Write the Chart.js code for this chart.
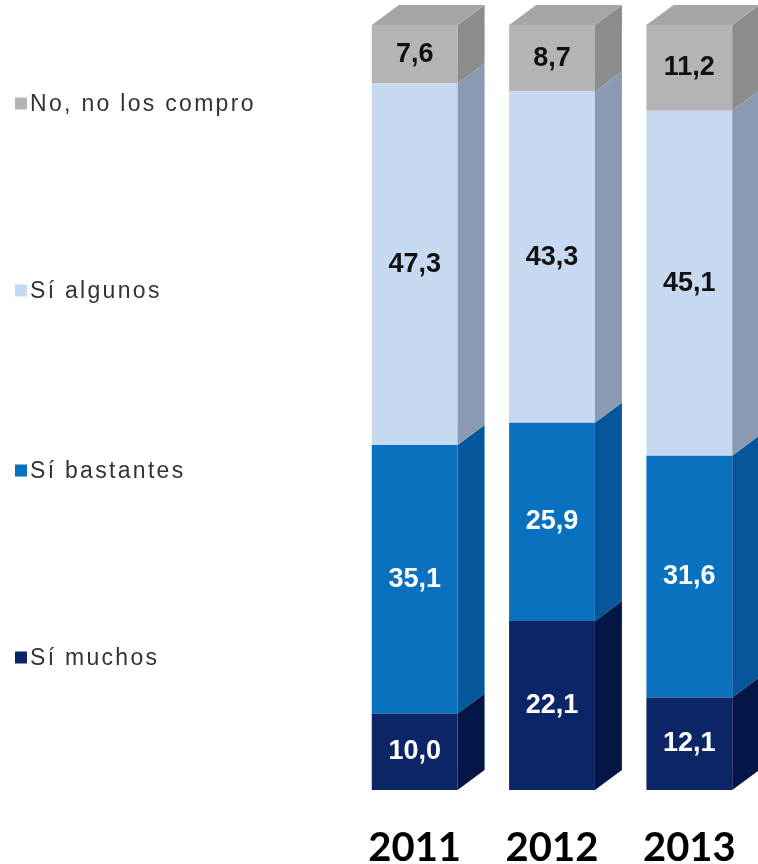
<!DOCTYPE html>
<html>
<head>
<meta charset="utf-8">
<script src="https://cdn.jsdelivr.net/npm/chart.js@4.4.1/dist/chart.umd.min.js"></script>
<style>
  html, body { margin: 0; padding: 0; background: #fff; }
  #wrap { position: relative; width: 758px; height: 864px; }
  #legend { position: absolute; left: 0; top: 0; }
  .item {
    position: absolute; left: 15px; white-space: nowrap;
    font: 23px "Liberation Sans", Arial, sans-serif; color: #333;
    letter-spacing: 2.3px; transform: translateY(-50%);
  }
  .item span.box {
    display: inline-block; width: 12px; height: 12px; margin-right: 3px;
    vertical-align: 1px;
  }
</style>
</head>
<body>
<div id="wrap">
  <canvas id="chart" width="758" height="864"></canvas>
  <div id="legend"></div>
</div>
<script>
// ─── datos ───
const years = ['2011', '2012', '2013'];
const seriesLabels = ['Sí muchos', 'Sí bastantes', 'Sí algunos', 'No, no los compro'];
const siMuchos    = [10.0, 22.1, 12.1];
const siBastantes = [35.1, 25.9, 31.6];
const siAlgunos   = [47.3, 43.3, 45.1];
const noCompro    = [7.6, 8.7, 11.2];

// ─── estilo ───
const frontColors = ['#0b2566', '#0a70c0', '#c6d9f0', '#b4b4b4'];
const sideColors  = ['#031645', '#05569a', '#8a9ab2', '#8c8c8c'];
const topColors   = ['#1a3a80', '#3a8ad0', '#d8e4f4', '#a6a6a6'];
const labelColors = ['#ffffff', '#ffffff', '#111111', '#111111'];
const legendTops  = [657, 470, 290, 103];
const DX = 27, DY = -20;

const seriesData = [siMuchos, siBastantes, siAlgunos, noCompro];

// cajas 3D: caras laterales y superior
const box3d = {
  id: 'box3d',
  afterDatasetsDraw(chart) {
    const ctx = chart.ctx;
    const nSets = chart.data.datasets.length;
    ctx.save();
    chart.data.datasets.forEach((ds, di) => {
      const meta = chart.getDatasetMeta(di);
      meta.data.forEach(bar => {
        const { x, y, base, width } = bar.getProps(['x', 'y', 'base', 'width'], true);
        const l = x - width / 2, r = x + width / 2;
        // lateral
        ctx.fillStyle = sideColors[di];
        ctx.beginPath();
        ctx.moveTo(r, base);
        ctx.lineTo(r + DX, base + DY);
        ctx.lineTo(r + DX, y + DY);
        ctx.lineTo(r, y);
        ctx.closePath();
        ctx.fill();
        // superior
        if (di === nSets - 1) {
          ctx.fillStyle = topColors[di];
          ctx.beginPath();
          ctx.moveTo(l, y);
          ctx.lineTo(l + DX, y + DY);
          ctx.lineTo(r + DX, y + DY);
          ctx.lineTo(r, y);
          ctx.closePath();
          ctx.fill();
        }
      });
    });
    // valores
    ctx.font = 'bold 27px "Liberation Sans", Arial, sans-serif';
    ctx.textAlign = 'center';
    ctx.textBaseline = 'middle';
    chart.data.datasets.forEach((ds, di) => {
      const meta = chart.getDatasetMeta(di);
      meta.data.forEach((bar, i) => {
        const { x, y, base } = bar.getProps(['x', 'y', 'base'], true);
        ctx.fillStyle = labelColors[di];
        ctx.fillText(ds.data[i].toFixed(1).replace('.', ','), x, (y + base) / 2);
      });
    });
    ctx.restore();
  }
};

const chart = new Chart(document.getElementById('chart'), {
  type: 'bar',
  data: {
    labels: years,
    datasets: seriesLabels.map((lab, i) => ({
      label: lab,
      data: seriesData[i],
      backgroundColor: frontColors[i],
      borderWidth: 0,
      categoryPercentage: 1,
      barPercentage: 0.625
    }))
  },
  options: {
    responsive: false,
    animation: false,
    layout: { padding: { left: 346, right: 0, top: 25, bottom: 0 } },
    plugins: { legend: { display: false }, tooltip: { enabled: false } },
    scales: {
      x: {
        stacked: true,
        grid: { display: false, drawTicks: false },
        border: { display: false },
        ticks: {
          color: '#000',
          padding: 34,
          font: { family: 'Lato, "Open Sans", sans-serif', size: 40, weight: 'bold' }
        },
        afterFit(scale) {
          scale.height = 74;
          scale.paddingLeft = 0;
          scale.paddingRight = 0;
        }
      },
      y: {
        stacked: true,
        min: 0,
        max: 100,
        display: false
      }
    }
  },
  plugins: [box3d]
});

// leyenda
const legend = document.getElementById('legend');
seriesLabels.forEach((lab, i) => {
  const d = document.createElement('div');
  d.className = 'item';
  d.style.top = legendTops[i] + 'px';
  d.innerHTML = `<span class="box" style="background:${frontColors[i]}"></span>${lab}`;
  legend.appendChild(d);
});
</script>
</body>
</html>
